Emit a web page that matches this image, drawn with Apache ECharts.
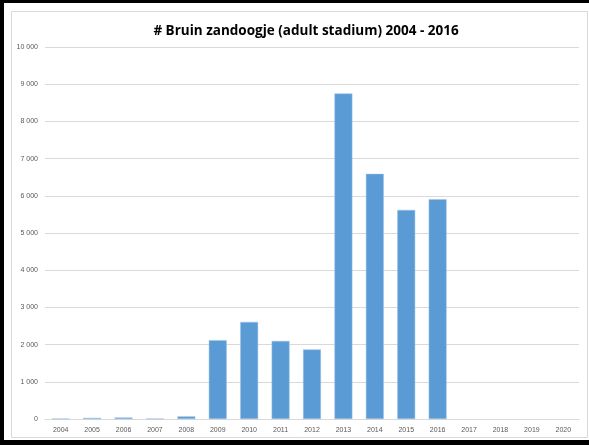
<!DOCTYPE html>
<html>
<head>
<meta charset="utf-8">
<script src="https://cdn.jsdelivr.net/npm/echarts@6/dist/echarts.min.js"></script>
<style>
html,body{margin:0;padding:0;background:#fff;}
#c{width:589px;height:445px;}
</style>
</head>
<body>
<div id="c"></div>
<script>
const titleText = '# Bruin zandoogje (adult stadium) 2004 - 2016';
const years = ['2004','2005','2006','2007','2008','2009','2010','2011','2012','2013','2014','2015','2016','2017','2018','2019','2020'];
const counts = [10, 30, 40, 10, 70, 2120, 2610, 2100, 1870, 8750, 6590, 5620, 5910, null, null, null, null];
const yTicks = [0, 1000, 2000, 3000, 4000, 5000, 6000, 7000, 8000, 9000, 10000];

const chart = echarts.init(document.getElementById('c'), null, {renderer: 'canvas'});
chart.setOption({
  animation: false,
  backgroundColor: '#fff',
  title: {
    text: titleText,
    left: 301, top: 19, textAlign: 'center',
    textStyle: {fontFamily: 'Open Sans', fontWeight: 'bold', fontSize: 13.5, color: '#000'}
  },
  graphic: [
    {type: 'rect', shape: {x: 11.5, y: 11.5, width: 576, height: 426}, style: {fill: null, stroke: '#d9d9d9', lineWidth: 1}, z: 0},
    {type: 'rect', shape: {x: 0, y: 0, width: 589, height: 3}, style: {fill: '#000'}, z: 10},
    {type: 'rect', shape: {x: 0, y: 0, width: 4, height: 445}, style: {fill: '#000'}, z: 10},
    {type: 'rect', shape: {x: 0, y: 440, width: 589, height: 5}, style: {fill: '#000'}, z: 10}
  ],
  grid: {left: 45, right: 10, top: 47, bottom: 26, containLabel: false},
  xAxis: {
    type: 'category',
    data: years,
    axisLine: {show: true, lineStyle: {color: '#d9d9d9'}},
    axisTick: {show: false},
    axisLabel: {color: '#595959', fontSize: 7, fontFamily: 'Liberation Sans', margin: 8, interval: 0}
  },
  yAxis: {
    type: 'value',
    min: yTicks[0], max: yTicks[yTicks.length - 1], interval: 1000,
    axisLine: {show: false},
    axisTick: {show: false},
    splitLine: {lineStyle: {color: '#d9d9d9'}},
    axisLabel: {
      color: '#595959', fontSize: 7, fontFamily: 'Liberation Sans', margin: 7,
      formatter: v => String(v).replace(/\B(?=(\d{3})+(?!\d))/g, ' ')
    }
  },
  series: [{
    type: 'bar',
    data: counts,
    barWidth: '57%',
    itemStyle: {color: '#5b9bd5', borderColor: '#9dc3e6', borderWidth: 0.5}
  }]
});
</script>
</body>
</html>
